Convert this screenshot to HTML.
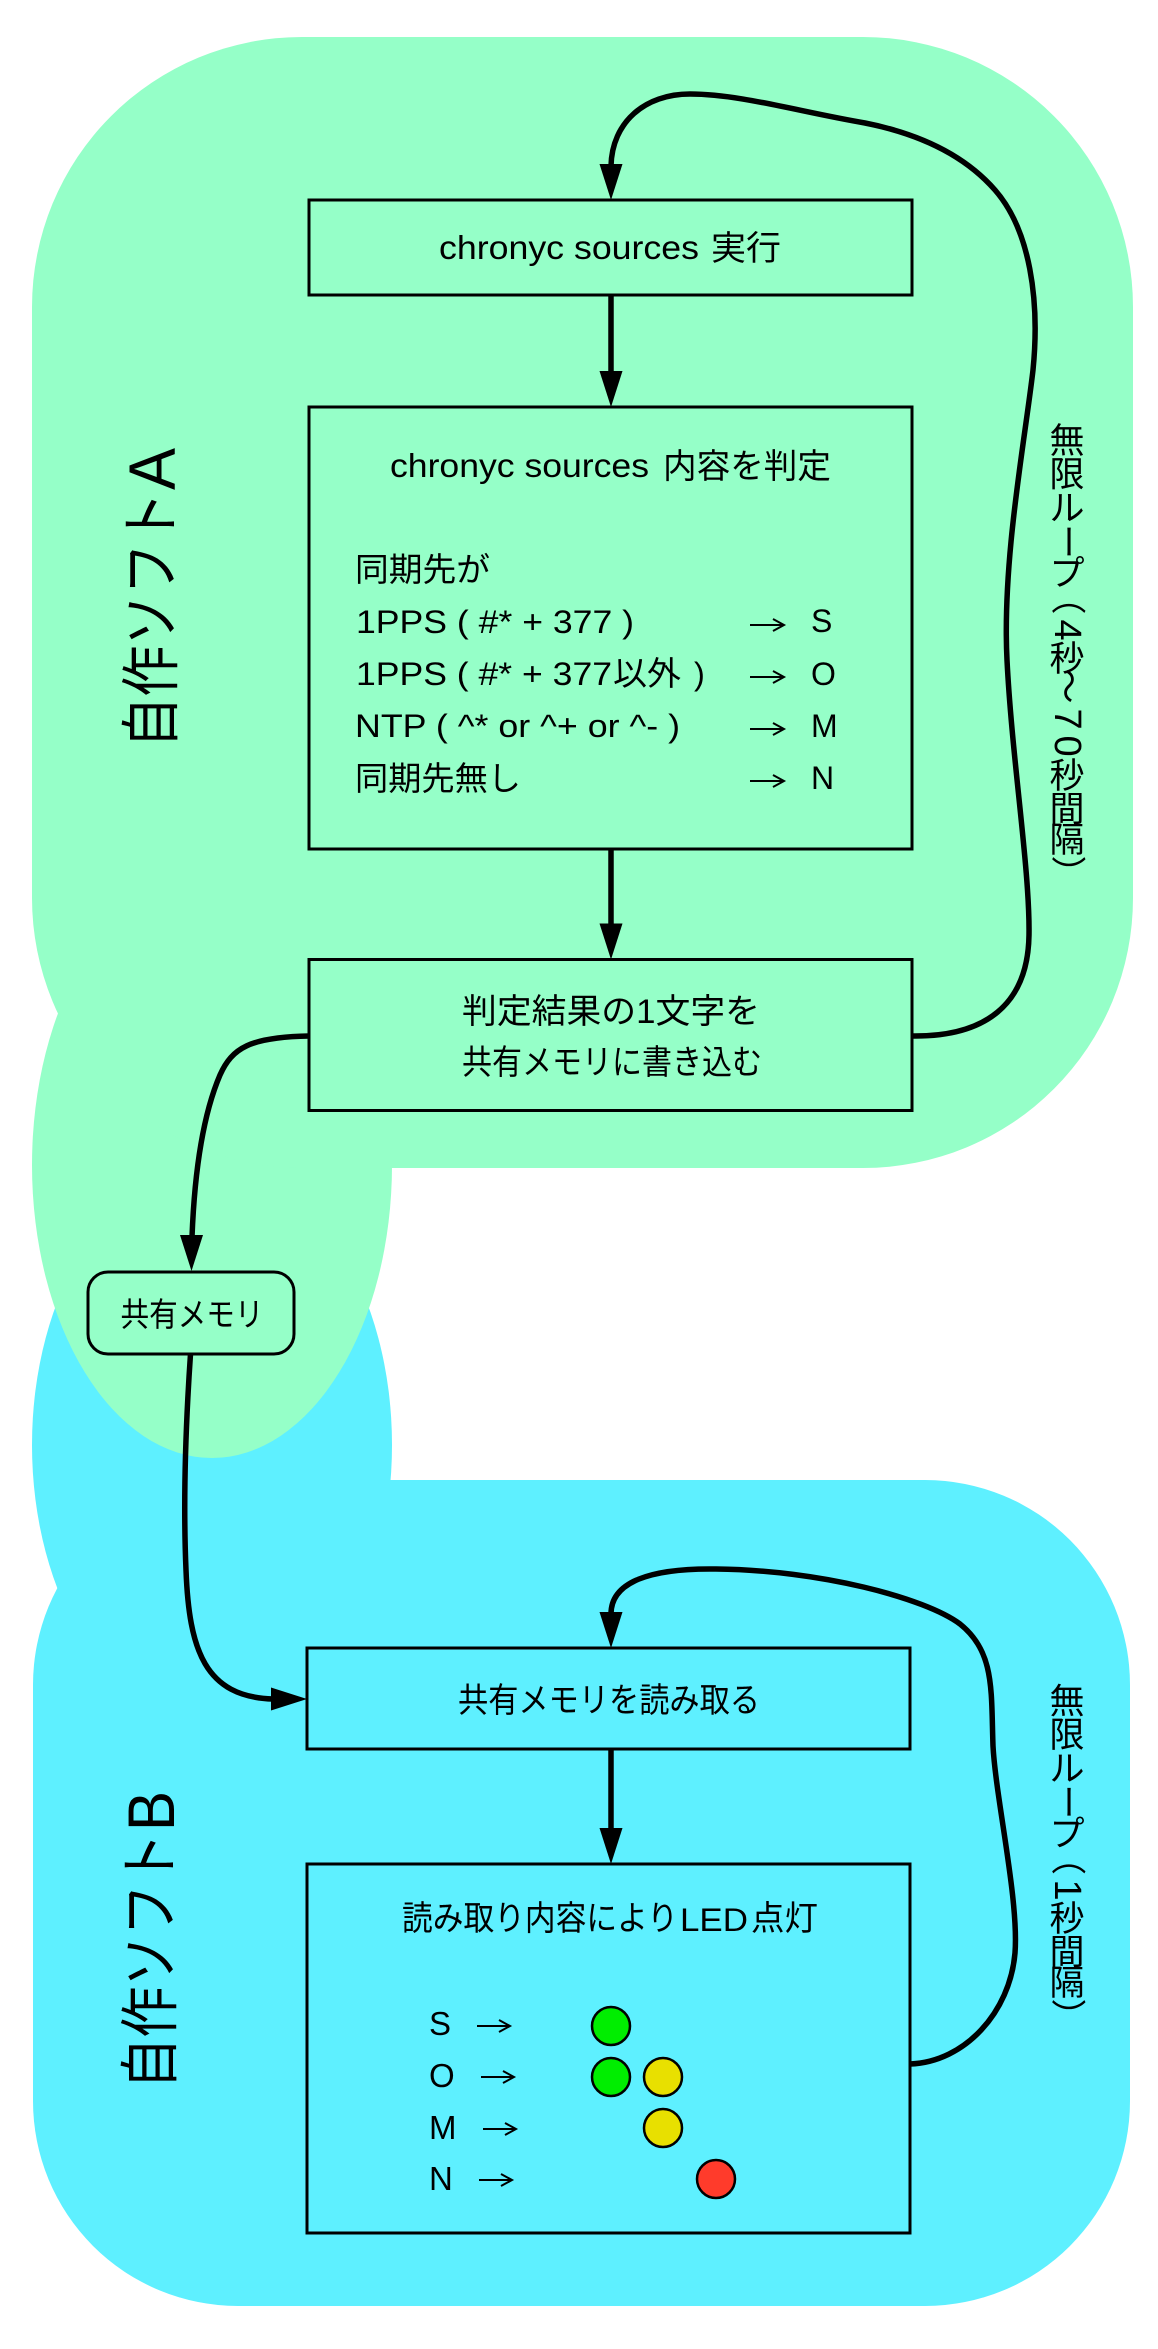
<!DOCTYPE html>
<html><head><meta charset="utf-8">
<style>
html,body{margin:0;padding:0;background:#fff;}
svg{display:block;}
.l{font-family:"Liberation Sans",sans-serif;fill:#000;}
.j{font-family:"Liberation Sans","Noto Sans CJK JP",sans-serif;fill:#000;}
</style></head>
<body>
<svg width="1158" height="2349" viewBox="0 0 1158 2349" xmlns="http://www.w3.org/2000/svg">
<rect width="1158" height="2349" fill="#fff"/>
<!-- region B -->
<ellipse cx="212" cy="1445" rx="180" ry="280" fill="#5EF0FF"/>
<rect x="33" y="1480" width="1097" height="826" rx="205" ry="205" fill="#5EF0FF"/>
<!-- region A -->
<ellipse cx="212" cy="1165" rx="180" ry="293" fill="#95FFC8"/>
<rect x="32" y="37" width="1101" height="1131" rx="270" ry="270" fill="#95FFC8"/>

<!-- boxes -->
<g fill="none" stroke="#000" stroke-width="3">
<rect x="309" y="200" width="603" height="95"/>
<rect x="309" y="407" width="603" height="442"/>
<rect x="309" y="959.5" width="603" height="151"/>
<rect x="88" y="1272" width="206" height="82" rx="20" ry="20"/>
<rect x="307" y="1648" width="603" height="101"/>
<rect x="307" y="1864" width="603" height="369"/>
</g>

<!-- connectors -->
<g fill="none" stroke="#000" stroke-width="5.5">
<path d="M611 295 V373"/>
<path d="M611 849 V925"/>
<path d="M611 1749 V1830"/>
<path d="M912 1036 C985 1037 1028 1005 1029 935 C1030 870 1012 760 1007 660 C1002 560 1025 440 1033 370 C1040 300 1030 230 995 190 C960 150 910 132 865 123 C800 112 740 94 690 94 C645 94 612 122 611 166"/>
<path d="M309 1036 C250 1037 232 1048 220 1075 C205 1110 195 1160 192 1237"/>
<path d="M190.5 1354 C186 1420 183 1500 186 1570 C189 1650 205 1697 273 1699"/>
<path d="M910 2064 C965 2062 1010 2012 1015 1953 C1019 1900 996 1800 993 1746 C991 1690 995 1652 960 1624 C925 1598 820 1570 716 1569 C650 1568 611 1582 611 1614"/>
</g>
<g fill="#000">
<polygon points="599.5,371 622.5,371 611,407"/>
<polygon points="599.5,923.5 622.5,923.5 611,959.5"/>
<polygon points="599.5,164 622.5,164 611,200"/>
<polygon points="180,1235 203,1235 191.5,1271"/>
<polygon points="271,1687.5 271,1710.5 307,1699"/>
<polygon points="599.5,1828 622.5,1828 611,1864"/>
<polygon points="599.5,1612 622.5,1612 611,1648"/>
</g>

<!-- box1 -->
<text class="l" x="439" y="259" font-size="33" textLength="260" lengthAdjust="spacingAndGlyphs">chronyc sources</text>
<text class="j" x="711" y="260" font-size="34" textLength="70" lengthAdjust="spacingAndGlyphs">実行</text>

<!-- box2 -->
<text class="l" x="390" y="477" font-size="33" textLength="259" lengthAdjust="spacingAndGlyphs">chronyc sources</text>
<text class="j" x="663" y="478" font-size="34" textLength="168" lengthAdjust="spacingAndGlyphs">内容を判定</text>
<text class="j" x="355" y="581" font-size="33" textLength="135" lengthAdjust="spacingAndGlyphs">同期先が</text>
<text class="l" x="356" y="633" font-size="32.5" textLength="278" lengthAdjust="spacingAndGlyphs">1PPS ( #* + 377 )</text>
<text class="l" x="356" y="685" font-size="32.5" textLength="256" lengthAdjust="spacingAndGlyphs">1PPS ( #* + 377</text>
<text class="j" x="613" y="685" font-size="33" textLength="68" lengthAdjust="spacingAndGlyphs">以外</text>
<text class="l" x="694" y="685" font-size="32.5">)</text>
<text class="l" x="355" y="737" font-size="32.5" textLength="325" lengthAdjust="spacingAndGlyphs">NTP ( ^* or ^+ or ^- )</text>
<text class="j" x="355" y="790" font-size="33" textLength="166" lengthAdjust="spacingAndGlyphs">同期先無し</text>
<g fill="none" stroke="#000" stroke-width="2">
<path d="M750 625 H783 M773 619 L784 625 L773 631"/>
<path d="M750 677 H783 M773 671 L784 677 L773 683"/>
<path d="M750 729 H783 M773 723 L784 729 L773 735"/>
<path d="M750 781 H783 M773 775 L784 781 L773 787"/>
</g>
<text class="l" x="811" y="632" font-size="32">S</text>
<text class="l" x="811" y="685" font-size="32">O</text>
<text class="l" x="811" y="737" font-size="32">M</text>
<text class="l" x="811" y="789" font-size="32">N</text>

<!-- box3 -->
<text class="j" x="462" y="1023" font-size="34" textLength="298" lengthAdjust="spacingAndGlyphs">判定結果の1文字を</text>
<text class="j" x="462" y="1074" font-size="34" textLength="300" lengthAdjust="spacingAndGlyphs">共有メモリに書き込む</text>

<!-- shared memory -->
<text class="j" x="120.5" y="1326" font-size="33" textLength="143" lengthAdjust="spacingAndGlyphs">共有メモリ</text>

<!-- box4 -->
<text class="j" x="458" y="1712" font-size="34" textLength="302" lengthAdjust="spacingAndGlyphs">共有メモリを読み取る</text>

<!-- box5 -->
<text class="j" x="402" y="1930" font-size="34" textLength="276" lengthAdjust="spacingAndGlyphs">読み取り内容により</text>
<text class="l" x="680" y="1931" font-size="32.5" textLength="68" lengthAdjust="spacingAndGlyphs">LED</text>
<text class="j" x="751" y="1930" font-size="34" textLength="67" lengthAdjust="spacingAndGlyphs">点灯</text>
<text class="l" x="429" y="2035" font-size="33">S</text>
<text class="l" x="429" y="2087" font-size="33">O</text>
<text class="l" x="429" y="2139" font-size="33">M</text>
<text class="l" x="429" y="2190" font-size="33">N</text>
<g fill="none" stroke="#000" stroke-width="2">
<path d="M477 2026 H509 M499 2020 L510 2026 L499 2032"/>
<path d="M481 2077 H513 M503 2071 L514 2077 L503 2083"/>
<path d="M483 2129 H515 M505 2123 L516 2129 L505 2135"/>
<path d="M479 2180 H511 M501 2174 L512 2180 L501 2186"/>
</g>
<g stroke="#000" stroke-width="2.5">
<circle cx="611" cy="2026" r="19" fill="#00EE00"/>
<circle cx="611" cy="2077" r="19" fill="#00EE00"/>
<circle cx="663" cy="2077" r="19" fill="#E8E000"/>
<circle cx="663" cy="2128" r="19" fill="#E8E000"/>
<circle cx="716" cy="2179" r="19" fill="#FF3B2B"/>
</g>

<!-- left rotated labels -->
<text class="j" font-size="60" dominant-baseline="central" transform="translate(152,748) rotate(-90)" textLength="256" lengthAdjust="spacingAndGlyphs">自作ソフト</text>
<text class="l" font-size="66" dominant-baseline="central" transform="translate(152,490) rotate(-90)" textLength="42" lengthAdjust="spacingAndGlyphs">A</text>
<text class="j" font-size="60" dominant-baseline="central" transform="translate(151,2089) rotate(-90)" textLength="256" lengthAdjust="spacingAndGlyphs">自作ソフト</text>
<text class="l" font-size="66" dominant-baseline="central" transform="translate(151,1831) rotate(-90)" textLength="40" lengthAdjust="spacingAndGlyphs">B</text>

<!-- vertical loop label A -->
<g class="j" font-size="35" text-anchor="middle" dominant-baseline="central">
<text class="j" x="1067" y="441.7">無</text>
<text class="j" x="1067" y="475">限</text>
<text class="j" x="1067" y="509">ル</text>
<text class="j" transform="translate(1067,541.5) rotate(90)">ー</text>
<text class="j" x="1067" y="574">プ</text>
<text class="j" transform="translate(1067,597) rotate(90)">（</text>
<text class="l" font-size="38" transform="translate(1067,630) rotate(90)">4</text>
<text class="j" x="1067" y="659.5">秒</text>
<text class="j" transform="translate(1067,686) rotate(90)">～</text>
<text class="l" font-size="38" transform="translate(1067,719) rotate(90)">7</text>
<text class="l" font-size="38" transform="translate(1067,746) rotate(90)">0</text>
<text class="j" x="1067" y="776.5">秒</text>
<text class="j" x="1067" y="810">間</text>
<text class="j" x="1067" y="840.5">隔</text>
<text class="j" transform="translate(1067,873) rotate(90)">）</text>
</g>

<!-- vertical loop label B -->
<g class="j" font-size="35" text-anchor="middle" dominant-baseline="central">
<text class="j" x="1067" y="1702">無</text>
<text class="j" x="1067" y="1735.3">限</text>
<text class="j" x="1067" y="1769.3">ル</text>
<text class="j" transform="translate(1067,1801.8) rotate(90)">ー</text>
<text class="j" x="1067" y="1834.3">プ</text>
<text class="j" transform="translate(1067,1857.5) rotate(90)">（</text>
<text class="l" font-size="38" transform="translate(1067,1890) rotate(90)">1</text>
<text class="j" x="1067" y="1919.5">秒</text>
<text class="j" x="1067" y="1953">間</text>
<text class="j" x="1067" y="1983.5">隔</text>
<text class="j" transform="translate(1067,2016) rotate(90)">）</text>
</g>
</svg>
</body></html>
